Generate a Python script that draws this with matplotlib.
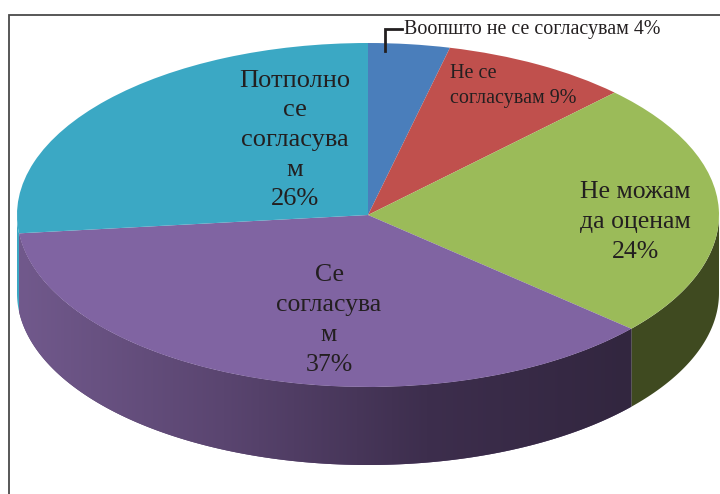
# 3d looking pie chart, survey answers in macedonian

import numpy as np
import matplotlib.pyplot as plt
from matplotlib.colors import LinearSegmentedColormap
from matplotlib.patches import Polygon

answers = ["Воопшто не се согласувам", "Не се согласувам", "Не можам да оценам", "Се согласувам", "Потполно се согласувам"]
# shares as drawn, the printed labels are rounded
shares = [3.75, 8.65, 24.1, 36.8, 26.7]
colors = ["#4a7ebb", "#c0504d", "#9bbb59", "#8064a2", "#3ba8c4"]
side_colors = ["#4a7ebb", "#c0504d", "#3f4a20", None, "#3ba8c4"]

labels = ["Воопшто не се согласувам 4%",
          "Не се\nсогласувам 9%",
          "Не можам\nда оценам\n24%",
          "Се\nсогласува\nм\n37%",
          "Потполно\nсе\nсогласува\nм\n26%"]

# ellipse in pixels of the picture
CX, CY, RX, RY = 368, 215, 351, 172
DEPTH = 78 / RY


def px(x, y):
    return (x - CX) / RX, (CY - y) / RY


plt.rcParams['font.family'] = ['Liberation Serif', 'DejaVu Serif']

fig = plt.figure(figsize=(7.2, 4.94), dpi=100)
ax = fig.add_axes([0, 0, 1, 1])

# side wall first, only the front half of the rim shows
ends = np.cumsum(shares) * 3.6
starts = ends - np.array(shares) * 3.6
purple = LinearSegmentedColormap.from_list("side", ["#71598c", "#5a4570", "#3d2e4d", "#32263f"])

for a, b, c in zip(starts, ends, side_colors):
    a2 = max(a, 90)
    b2 = min(b, 270)
    if a2 >= b2:
        continue
    th = np.radians(np.linspace(a2, b2, 120))
    xs = np.sin(th)
    ys = np.cos(th)
    pts = np.c_[np.r_[xs, xs[::-1]], np.r_[ys, ys[::-1] - DEPTH]]
    if c is None:
        wall = Polygon(pts, closed=True, facecolor="#5a4570", lw=0)
        ax.add_patch(wall)
        grad = np.linspace(0, 1, 256).reshape(1, -1)
        ax.imshow(grad, cmap=purple, extent=(xs.min(), xs.max(), ys.min() - DEPTH, ys.max()),
                  aspect='auto', clip_path=wall, zorder=1.5)
    else:
        ax.add_patch(Polygon(pts, closed=True, facecolor=c, lw=0))

wedges, _ = ax.pie(shares, colors=colors, startangle=90, counterclock=False, radius=1, center=(0, 0))
for w in wedges:
    w.set_zorder(2)
ax.set_aspect('auto')
ax.set_xlim((0 - CX) / RX, (720 - CX) / RX)
ax.set_ylim((CY - 494) / RY, CY / RY)
ax.axis('off')

# frame of the picture, open on right and bottom
fx, fy = zip(px(9, 494), px(9, 15), px(720, 15))
ax.plot(fx, fy, color="#4a4a4a", lw=1.3, solid_joinstyle='miter', zorder=3)

# leader of the small slice
lx, ly = zip(px(402, 29), px(385, 29), px(385, 51))
ax.plot(lx, ly, color="#231f20", lw=2, solid_joinstyle='miter', zorder=3)

text_col = "#231f20"
ax.text(*px(404, 30), labels[0], fontsize=14.4, color=text_col, va='center', ha='left', zorder=4)
ax.text(*px(450, 86), labels[1], fontsize=14.5, color=text_col, va='center', ha='left', linespacing=1.45, zorder=4)
ax.text(*px(635, 222), labels[2], fontsize=18.5, color=text_col, va='center', ha='center', linespacing=1.47, zorder=4)
ax.text(*px(329, 320), labels[3], fontsize=18.5, color=text_col, va='center', ha='center', linespacing=1.47, zorder=4)
ax.text(*px(295, 140), labels[4], fontsize=19, color=text_col, va='center', ha='center', linespacing=1.45, zorder=4)

fig.savefig("out.png", dpi=100)
